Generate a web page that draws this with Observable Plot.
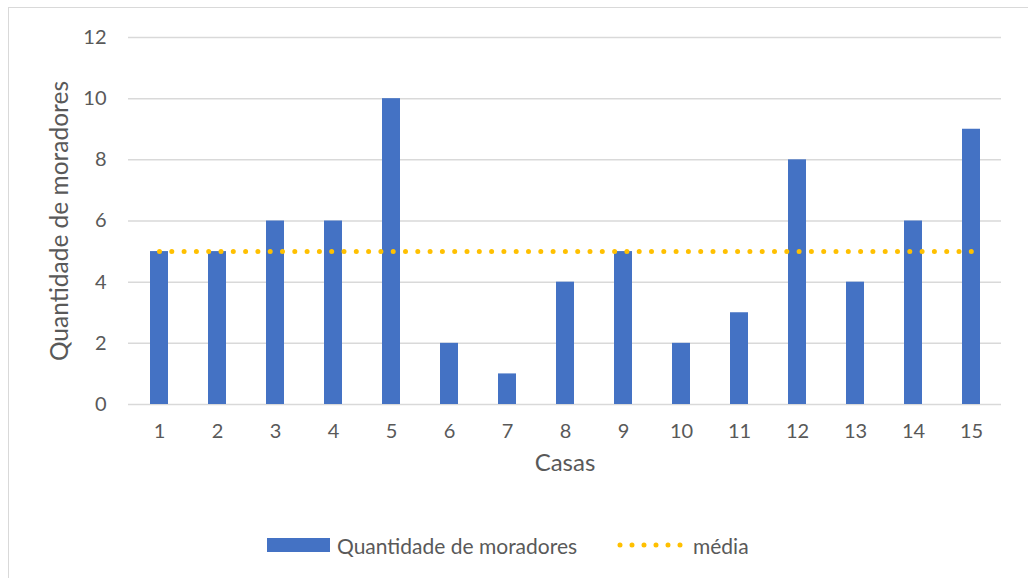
<!DOCTYPE html>
<html>
<head>
<meta charset="utf-8">
<script src="https://cdn.jsdelivr.net/npm/d3@7"></script>
<script src="https://cdn.jsdelivr.net/npm/@observablehq/plot@0.6"></script>
<style>
  body { margin: 0; background: #fff; }
  #chart { position: relative; width: 1028px; height: 578px; overflow: hidden; font-family: Lato, "Open Sans", sans-serif; color: #595959; }
  #frame { position: absolute; left: 8px; top: 7px; width: 1040px; height: 600px; border-left: 1px solid #d9d9d9; border-top: 1px solid #d9d9d9; box-sizing: border-box; }
  #plot { position: absolute; left: 0; top: 0; }
  .legend { position: absolute; top: 531px; height: 28px; display: flex; align-items: center; font-size: 21px; white-space: nowrap; }
  .swatch { display: inline-block; width: 63px; height: 14px; background: #4472C4; margin-right: 7px; }
  .dots { margin-right: 10px; }
</style>
</head>
<body>
<div id="chart">
  <div id="frame"></div>
  <div id="plot"></div>
  <div class="legend" style="left:267px"><span class="swatch"></span><span>Quantidade de moradores</span></div>
  <div class="legend" style="left:617px">
    <svg class="dots" width="66" height="10"><line x1="3" x2="64" y1="5" y2="5" stroke="#FFC000" stroke-width="5" stroke-linecap="round" stroke-dasharray="0 12"></line></svg><span>média</span>
  </div>
</div>
<script>
// Casas e quantidade de moradores por casa
const casas = [1, 2, 3, 4, 5, 6, 7, 8, 9, 10, 11, 12, 13, 14, 15];
const moradores = [5, 5, 6, 6, 10, 2, 1, 4, 5, 2, 3, 8, 4, 6, 9];
const media = 5;
const yTicks = [0, 2, 4, 6, 8, 10, 12];

const data = casas.map((casa, i) => ({ casa, moradores: moradores[i], media }));

const chart = Plot.plot({
  width: 1028,
  height: 500,
  marginTop: 37,
  marginBottom: 96,
  marginLeft: 128,
  marginRight: 27,
  style: { fontFamily: "Lato, 'Open Sans', sans-serif", fontSize: "20px", color: "#595959", background: "transparent", overflow: "visible" },
  x: { type: "band", domain: casas, paddingInner: 0.69, paddingOuter: 0.345, label: null },
  y: { domain: [0, 12], label: null },
  marks: [
    Plot.gridY(yTicks, { stroke: "#d9d9d9", strokeOpacity: 1, strokeWidth: 1.5 }),
    Plot.barY(data, { x: "casa", y: "moradores", fill: "#4472C4" }),
    Plot.lineY(data, { x: "casa", y: "media", stroke: "#FFC000", strokeWidth: 5, strokeLinecap: "round", strokeDasharray: "0 12.3" }),
    Plot.axisY(yTicks, { tickSize: 0, tickPadding: 22, label: null, fill: "#595959" }),
    Plot.axisX({ tickSize: 0, tickPadding: 19, label: null, fill: "#595959" }),
    Plot.text(["Quantidade de moradores"], { frameAnchor: "left", textAnchor: "middle", rotate: -90, dx: -68, fill: "#595959", fontSize: 24.5 }),
    Plot.text(["Casas"], { frameAnchor: "bottom", dy: 66, fill: "#595959", fontSize: 24 })
  ]
});

document.getElementById("plot").appendChild(chart);
</script>
</body>
</html>
